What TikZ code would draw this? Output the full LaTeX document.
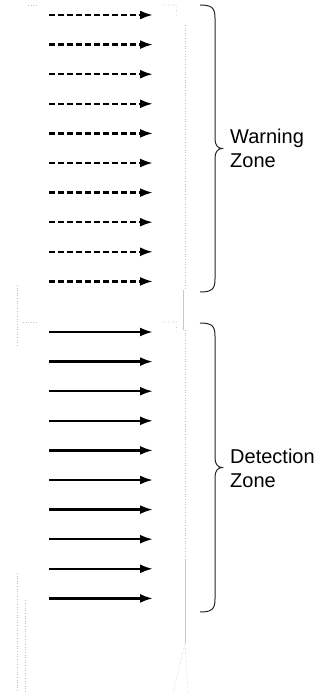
\documentclass[tikz,border=0pt]{standalone}
\usepackage{fontspec}
\setmainfont{Liberation Sans}
\usetikzlibrary{arrows.meta}
\begin{document}
\begin{tikzpicture}[x=1pt,y=-1pt,
  dasharrow/.style={line width=2.4pt,dash pattern=on 6pt off 3pt,-{Latex[length=13pt,width=9pt]}},
  solidarrow/.style={line width=2.4pt,-{Latex[length=13pt,width=9pt]}},
  bracestyle/.style={line width=1pt,black!85},
  faint/.style={line width=0.6pt,black!22},
  faintdot/.style={line width=0.6pt,black!25,dotted},
  zonelabel/.style={anchor=west,align=left,inner sep=0pt,font=\fontsize{20}{24}\selectfont}]
\useasboundingbox (0,0) rectangle (322,693);
% faint background artefacts
\draw[faintdot] (28,5) -- (38,5);
\draw[faintdot] (163,5) -- (176,5) -- (177,17);
\draw[faintdot] (185,25) -- (185,290);
\draw[faint] (183,290) -- (183,330);
\draw[faintdot] (185,330) -- (185,643);
\draw[faint] (185,560) -- (185,643);
\draw[faintdot] (185,643) -- (188,693);
\draw[faintdot] (185,643) -- (173,693);
\draw[faintdot] (23,322) -- (37,322);
\draw[faintdot] (163,322) -- (176,322) -- (177,334);
\draw[faintdot] (17,285) -- (17,345);
\draw[faintdot] (17,573) -- (17,693);
\draw[faintdot] (25,600) -- (25,693);
% arrows
\foreach \i in {0,...,9}{
  \pgfmathsetmacro{\yy}{15+\i*29.6}
  \coordinate (ws\i) at (49,\yy);
  \coordinate (we\i) at (153,\yy);
  \draw[dasharrow] (ws\i) -- (we\i);
  \pgfmathsetmacro{\yz}{332+\i*29.6}
  \coordinate (ds\i) at (49,\yz);
  \coordinate (de\i) at (153,\yz);
  \draw[solidarrow] (ds\i) -- (de\i);
}
% braces
\coordinate (wtop) at (200,5);
\coordinate (wtip) at (222,148.5);
\coordinate (wbot) at (200,292);
\draw[bracestyle] (wtop) .. controls (212,5) and (215,8) .. (215,18) -- (215,139)
  .. controls (215,145) and (218,148.5) .. (wtip)
  .. controls (218,148.5) and (215,152) .. (215,158) -- (215,279)
  .. controls (215,289) and (212,292) .. (wbot);
\coordinate (dtop) at (200,323);
\coordinate (dtip) at (222,467.5);
\coordinate (dbot) at (200,612);
\draw[bracestyle] (dtop) .. controls (212,323) and (215,326) .. (215,336) -- (215,458)
  .. controls (215,464) and (218,467.5) .. (dtip)
  .. controls (218,467.5) and (215,471) .. (215,477) -- (215,599)
  .. controls (215,609) and (212,612) .. (dbot);
\node[zonelabel] (wlab) at (230,148.5) {Warning\\Zone};
\node[zonelabel] (dlab) at (230,468) {Detection\\Zone};
\end{tikzpicture}
\end{document}
